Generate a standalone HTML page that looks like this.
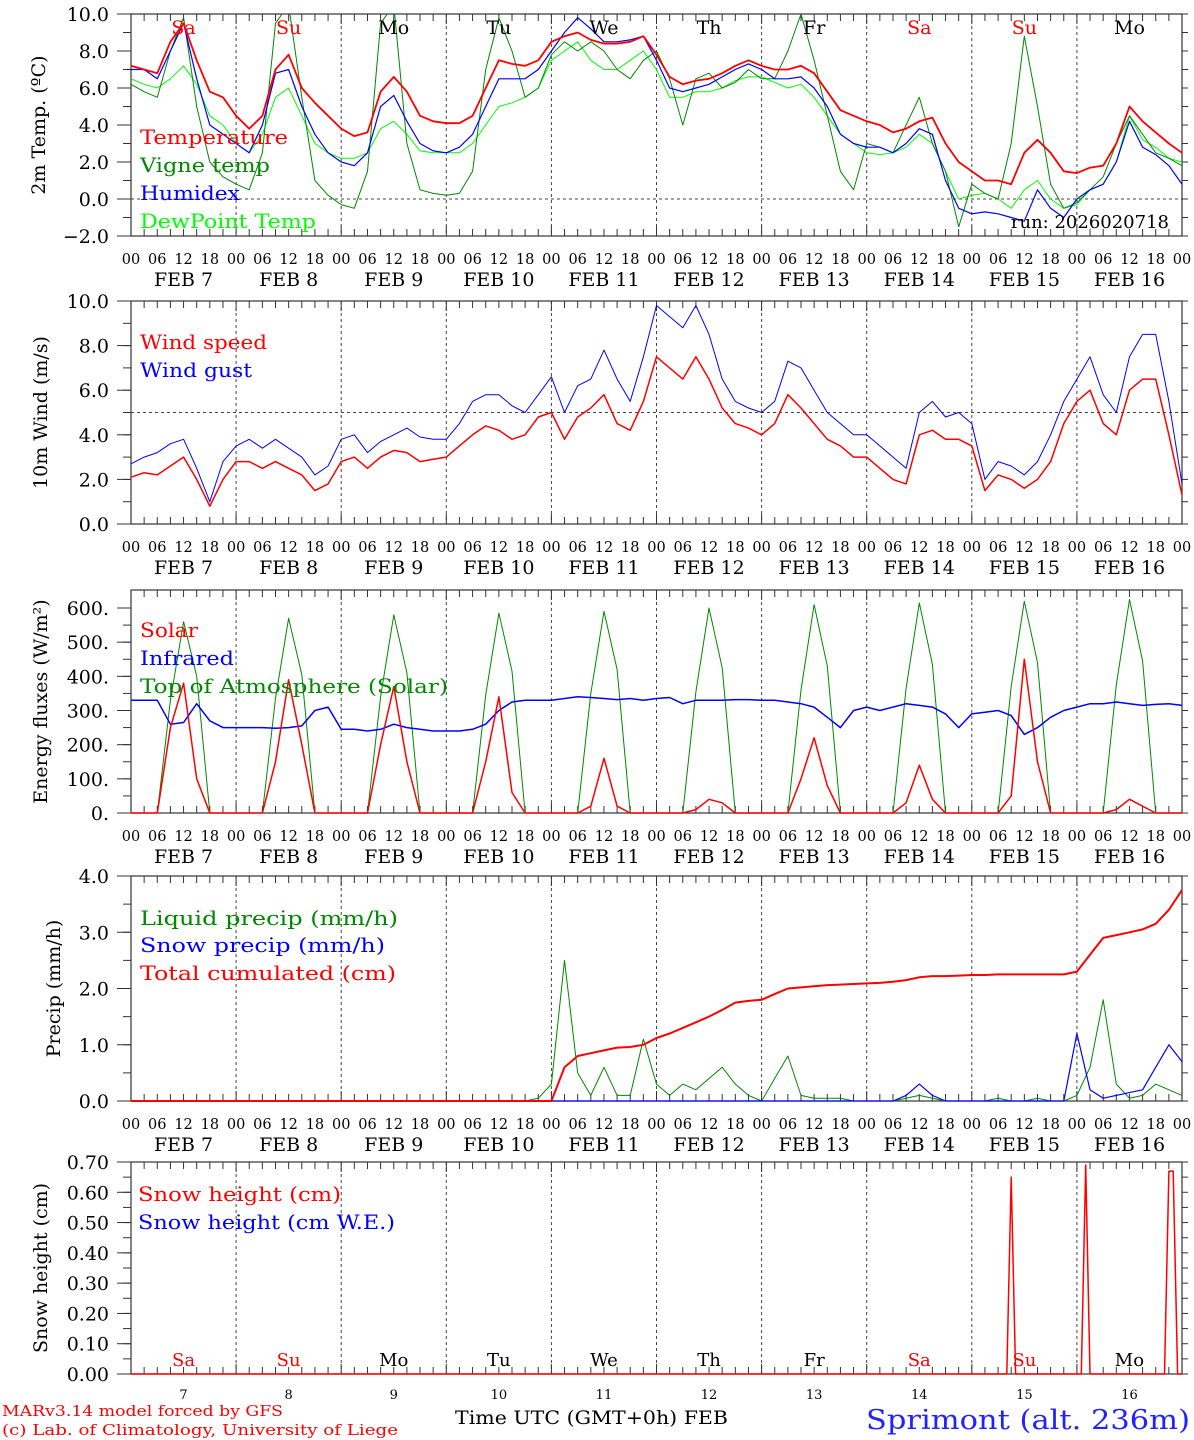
<!DOCTYPE html>
<html><head><meta charset="utf-8">
<style>
html,body{margin:0;padding:0;background:#fff;}
svg{display:block;font-family:"DejaVu Serif","Liberation Serif",serif;}
</style></head>
<body>
<svg id="chart" width="1194" height="1440" viewBox="0 0 1194 1440" xmlns="http://www.w3.org/2000/svg"></svg>
<script>
// ---------- DATA (3-hourly from FEB 7 00 UTC) ----------
const dayNames = ["Sa","Su","Mo","Tu","We","Th","Fr","Sa","Su","Mo"];
const dayNums = ["7","8","9","10","11","12","13","14","15","16"];
const weekend = [true,true,false,false,false,false,false,true,true,false];
const tempVals = [7.2,7.0,6.8,8.5,9.5,7.5,5.8,5.5, 4.5,3.8,4.5,7.0,7.8,6.0,5.2,4.5, 3.8,3.4,3.6,5.8,6.6,5.8,4.5,4.2, 4.1,4.1,4.5,6.0,7.5,7.3,7.2,7.5, 8.5,8.8,9.0,8.6,8.4,8.4,8.5,8.8, 7.8,6.6,6.2,6.4,6.5,6.8,7.2,7.5, 7.2,7.0,7.0,7.2,6.8,5.8,4.8,4.5, 4.2,4.0,3.6,3.8,4.2,4.4,3.0,2.0, 1.5,1.0,1.0,0.8,2.5,3.2,2.5,1.5, 1.4,1.7,1.8,3.0,5.0,4.2,3.6,3.0,2.5];
const vigneVals = [6.2,5.8,5.5,8.0,9.8,5.0,2.0,1.2, 0.8,0.5,2.5,9.5,10.5,5.5,1.0,0.2, -0.3,-0.5,1.5,9.5,10.5,3.0,0.5,0.3, 0.2,0.3,1.5,7.0,9.8,8.0,5.5,6.0, 7.8,8.5,8.0,8.5,8.0,7.0,6.5,7.5, 8.0,6.5,4.0,6.5,6.8,6.0,6.3,7.0, 6.5,6.5,8.0,10.0,7.5,4.5,1.5,0.5, 3.0,2.8,2.5,4.0,5.5,3.0,1.5,-1.5, 0.8,0.3,0.0,3.0,8.8,5.0,0.8,-0.5, -0.2,0.5,1.2,3.0,4.5,3.5,2.5,2.2,1.8];
const humidexVals = [7.0,7.0,6.5,8.0,9.5,6.5,4.0,3.5, 3.0,2.5,4.0,6.8,7.0,5.0,3.5,2.5, 2.0,1.8,2.5,5.0,5.6,4.2,3.0,2.6, 2.5,2.8,3.5,5.0,6.5,6.5,6.5,7.0, 8.0,9.0,9.8,9.2,8.5,8.5,8.6,8.8, 7.5,6.0,5.8,6.0,6.2,6.6,7.0,7.3, 7.0,6.5,6.5,6.6,6.0,5.0,3.5,3.0, 2.8,2.8,2.5,3.0,3.8,3.5,1.0,-0.5, -0.8,-0.7,-0.8,-1.0,-1.2,0.5,-0.5,-1.0, 0.0,0.5,0.8,2.0,4.2,2.8,2.4,1.8,0.8];
const dewVals = [6.5,6.2,6.0,6.5,7.2,6.2,4.5,4.0, 3.0,2.5,3.5,5.5,6.0,4.5,3.0,2.5, 2.2,2.2,2.5,3.8,4.2,3.5,2.6,2.5, 2.5,2.5,3.0,4.0,5.0,5.2,5.5,6.0, 7.5,8.0,8.5,7.5,7.0,7.0,7.5,8.0, 7.0,5.5,5.5,5.8,5.8,6.0,6.4,6.6, 6.6,6.3,6.0,6.2,5.5,4.5,3.5,3.0, 2.5,2.4,2.5,2.8,3.5,3.0,1.5,0.0, 0.2,0.3,0.0,-0.5,0.5,1.0,0.0,-0.5, -0.3,0.5,0.8,2.0,4.5,3.2,2.8,2.2,2.0];
const windVals = [2.1,2.3,2.2,2.6,3.0,2.0,0.8,2.0, 2.8,2.8,2.5,2.8,2.5,2.2,1.5,1.8, 2.8,3.0,2.5,3.0,3.3,3.2,2.8,2.9, 3.0,3.5,4.0,4.4,4.2,3.8,4.0,4.8, 5.0,3.8,4.8,5.2,5.8,4.5,4.2,5.5, 7.5,7.0,6.5,7.5,6.5,5.2,4.5,4.3, 4.0,4.5,5.8,5.2,4.5,3.8,3.5,3.0, 3.0,2.5,2.0,1.8,4.0,4.2,3.8,3.8, 3.5,1.5,2.2,2.0,1.6,2.0,2.8,4.5, 5.5,6.0,4.5,4.0,6.0,6.5,6.5,4.0,1.3];
const gustVals = [2.7,3.0,3.2,3.6,3.8,2.5,1.0,2.8, 3.5,3.8,3.4,3.8,3.4,3.0,2.2,2.6, 3.8,4.0,3.2,3.7,4.0,4.3,3.9,3.8, 3.8,4.5,5.5,5.8,5.8,5.3,5.0,5.8, 6.6,5.0,6.2,6.5,7.8,6.5,5.5,7.5, 9.8,9.3,8.8,9.8,8.5,6.5,5.5,5.2, 5.0,5.5,7.3,7.0,6.0,5.0,4.5,4.0, 4.0,3.5,3.0,2.5,5.0,5.5,4.8,5.0, 4.5,2.0,2.8,2.6,2.2,2.8,4.0,5.5, 6.5,7.5,5.8,5.0,7.5,8.5,8.5,5.5,1.8];
const solarVals = [0,0,0,250,380,100,0,0, 0,0,0,150,390,200,0,0, 0,0,0,200,370,150,0,0, 0,0,0,150,340,60,0,0, 0,0,0,20,160,20,0,0, 0,0,0,10,40,30,0,0, 0,0,0,100,220,80,0,0, 0,0,0,30,140,40,0,0, 0,0,0,50,450,150,0,0, 0,0,0,10,40,20,0,0,0];
const infraredVals = [330,330,330,260,265,320,270,250, 250,250,250,248,250,255,300,310, 245,245,240,245,260,250,245,240, 240,240,245,260,300,325,330,330, 330,335,340,338,335,332,335,330, 335,338,320,330,330,330,332,332, 330,330,325,320,310,280,250,300, 310,300,310,320,315,310,290,250, 290,295,300,285,230,250,280,300, 310,320,320,325,320,315,318,320,315];
const toaVals = [0,0,0,330,560,400,0,0, 0,0,0,335,570,405,0,0, 0,0,0,340,580,410,0,0, 0,0,0,345,585,415,0,0, 0,0,0,350,590,420,0,0, 0,0,0,355,600,425,0,0, 0,0,0,360,610,430,0,0, 0,0,0,365,615,435,0,0, 0,0,0,370,620,440,0,0, 0,0,0,375,625,445,0,0,0];
const liquidVals = [0,0,0,0,0,0,0,0, 0,0,0,0,0,0,0,0, 0,0,0,0,0,0,0,0, 0,0,0,0,0,0,0,0.05, 0.3,2.5,0.5,0.1,0.6,0.1,0.1,1.1, 0.3,0.1,0.3,0.2,0.4,0.6,0.3,0.1, 0,0.4,0.8,0.1,0.05,0.05,0.05,0, 0,0,0,0.05,0.1,0.05,0,0, 0,0,0.05,0,0,0.05,0,0, 0.1,0.6,1.8,0.3,0.05,0.1,0.3,0.2,0.1];
const snowPrecVals = [0,0,0,0,0,0,0,0, 0,0,0,0,0,0,0,0, 0,0,0,0,0,0,0,0, 0,0,0,0,0,0,0,0, 0,0,0,0,0,0,0,0, 0,0,0,0,0,0,0,0, 0,0,0,0,0,0,0,0, 0,0,0,0.1,0.3,0.1,0,0, 0,0,0,0,0,0,0,0, 1.2,0.2,0.05,0.1,0.15,0.2,0.6,1.0,0.7];
const cumulVals = [0,0,0,0,0,0,0,0, 0,0,0,0,0,0,0,0, 0,0,0,0,0,0,0,0, 0,0,0,0,0,0,0,0, 0,0.6,0.8,0.85,0.9,0.95,0.96,1.0, 1.12,1.2,1.3,1.4,1.5,1.62,1.75,1.78, 1.8,1.9,2.0,2.02,2.04,2.06,2.07,2.08, 2.09,2.1,2.12,2.15,2.2,2.22,2.22,2.23, 2.24,2.24,2.25,2.25,2.25,2.25,2.25,2.25, 2.3,2.6,2.9,2.95,3.0,3.05,3.15,3.4,3.75];
const snowHT = [0,199,200,201,202,216,217,218,219,236,237,238,239,240];
const snowHV = [0,0,0,0.65,0,0,0,0.69,0,0,0.67,0.67,0,0];
const hours = [];
for (let i = 0; i <= 80; i++) hours.push(i * 3);

// ---------- DRAW ----------
const NS = "http://www.w3.org/2000/svg";
const svg = document.getElementById("chart");
const X0 = 131, X1 = 1182;
function xs(t){ return X0 + t * (X1 - X0) / 240; }
function mk(tag, attrs, parent){
  const e = document.createElementNS(NS, tag);
  for (const k in attrs) e.setAttribute(k, attrs[k]);
  (parent || svg).appendChild(e);
  return e;
}
function txt(s, x, y, size, fill, anchor, extra){
  const e = mk("text", Object.assign({x:x, y:y, "font-size":size, fill:fill||"#000", "text-anchor":anchor||"start"}, extra||{}));
  e.textContent = s;
  return e;
}
function linePath(ts, vs, ys){
  let d = "";
  for (let i = 0; i < ts.length; i++) d += (i ? "L" : "M") + xs(ts[i]).toFixed(1) + "," + ys(vs[i]).toFixed(1);
  return d;
}

const panels = [
  {name:"temperature-panel", top:14, bot:236, min:-2, max:10, ticks:[-2,0,2,4,6,8,10], fmt:v=>(v<0?"\u22122.0":v.toFixed(1)), minor:1, title:"2m Temp. (\u00BAC)", tx:45, dashed:0, labelRow:true},
  {name:"wind-panel", top:301, bot:524, min:0, max:10, ticks:[0,2,4,6,8,10], fmt:v=>v.toFixed(1), minor:1, title:"10m Wind (m/s)", tx:47, dashed:5, labelRow:true},
  {name:"energy-panel", top:608, bot:813, min:0, max:600, ticks:[0,100,200,300,400,500,600], fmt:v=>v+".", minor:50, title:"Energy fluxes (W/m\u00B2)", tx:47, ext:[590], labelRow:true},
  {name:"precip-panel", top:876, bot:1101, min:0, max:4, ticks:[0,1,2,3,4], fmt:v=>v.toFixed(1), minor:0.5, title:"Precip (mm/h)", tx:60, labelRow:true},
  {name:"snow-panel", top:1162, bot:1374, min:0, max:0.7, ticks:[0,0.1,0.2,0.3,0.4,0.5,0.6,0.7], fmt:v=>v.toFixed(2), minor:0.05, title:"Snow height (cm)", tx:47, labelRow:false}
];
panels.forEach(p=>{
  p.ys = v => p.bot - (v - p.min) * (p.bot - p.top) / (p.max - p.min);
  const g = mk("g", {});
  
  
  const ptop = p.ext ? p.ext[0] : p.top;
  mk("rect", {x:X0, y:ptop, width:X1-X0, height:p.bot-ptop, fill:"none", stroke:"#333", "stroke-width":1.2}, g);
  for (let d = 1; d < 10; d++) mk("line", {x1:xs(d*24), x2:xs(d*24), y1:ptop, y2:p.bot, stroke:"#444", "stroke-dasharray":"3,3", "stroke-width":1}, g);
  for (let h = 0; h <= 240; h += 3){
    const L = h % 24 === 0 ? 10 : 7;
    mk("line", {x1:xs(h), x2:xs(h), y1:ptop, y2:ptop+L, stroke:"#333", "stroke-width":1}, g);
    mk("line", {x1:xs(h), x2:xs(h), y1:p.bot, y2:p.bot-L, stroke:"#333", "stroke-width":1}, g);
  }
  for (let v = p.min; v <= p.max + 1e-9; v += p.minor){
    const y = p.ys(v);
    mk("line", {x1:X0-8, x2:X0, y1:y, y2:y, stroke:"#333", "stroke-width":1}, g);
    mk("line", {x1:X1, x2:X1+6, y1:y, y2:y, stroke:"#333", "stroke-width":1}, g);
  }
  p.ticks.forEach(v=>{
    const y = p.ys(v);
    mk("line", {x1:X0-14, x2:X0, y1:y, y2:y, stroke:"#333", "stroke-width":1}, g);
    const t = txt(p.fmt(v), X0-22, y+7, 19, "#000", "end");
    
    
  });
  if (p.dashed !== undefined){
    const y = p.ys(p.dashed);
    mk("line", {x1:X0, x2:X1, y1:y, y2:y, stroke:"#444", "stroke-dasharray":"3,3", "stroke-width":1}, g);
  }
  const cy = (ptop + p.bot) / 2;
  const tt = txt(p.title, p.tx, cy, 19, "#000", "middle", {transform:"rotate(-90 "+p.tx+" "+cy+")"});
  
  
  if (p.labelRow){
    for (let d = 0; d < 10; d++){
      ["00","06","12","18"].forEach((s,i)=>{
        const t = txt(s, xs(d*24+i*6), p.bot+28, 14.5, "#000", "middle");
        
        
      });
      const t2 = txt("FEB " + (dayNums[d].length<2?" ":"") + dayNums[d], xs(d*24+12), p.bot+50, 19, "#000", "middle", {"xml:space":"preserve"});
      
      
    }
    const t3 = txt("00", xs(240), p.bot+28, 14.5, "#000", "middle");
    
    
  }
});

function series(p, ts, vs, color, name, w){
  const e = mk("path", {d:linePath(ts, vs, p.ys), fill:"none", stroke:color, "stroke-width":w||1.2, "stroke-linejoin":"round"});
  
  
}
function legend(s, x, y, color, len){
  const t = txt(s, x, y, 20, color, "start", {textLength:len, lengthAdjust:"spacingAndGlyphs"});
  
  
}
function clipFor(p, id){
  const cp = mk("clipPath", {id:id});
  mk("rect", {x:X0, y:p.top, width:X1-X0, height:p.bot-p.top}, cp);
}

// panel 1
const P1 = panels[0];
clipFor(P1, "c1");
const g1 = mk("g", {"clip-path":"url(#c1)"});
for (let d = 0; d < 10; d++){
  const t = txt(dayNames[d], xs(d*24+12), 34, 19, weekend[d] ? "#f00" : "#000", "middle");
  
  
}
[[dewVals,"#0f0","dewpoint-line",1],[vigneVals,"#080","vigne-temp-line",1],[humidexVals,"#00f","humidex-line",1.2],[tempVals,"#f00","temperature-line",1.8]].forEach(s=>{
  const e = mk("path", {d:linePath(hours, s[0], P1.ys), fill:"none", stroke:s[1], "stroke-width":s[3], "stroke-linejoin":"round"}, g1);
  
  
});
legend("Temperature", 140, 144, "#f00", 148);
legend("Vigne temp", 140, 172, "#080", 130);
legend("Humidex", 140, 200, "#00f", 100);
legend("DewPoint Temp", 140, 228, "#0f0", 176);
const run = txt("run: 2026020718", 1169, 228, 18, "#000", "end");



// panel 2
const P2 = panels[1];
series(P2, hours, gustVals, "#00f", "wind-gust-line", 1);
series(P2, hours, windVals, "#f00", "wind-speed-line", 1.5);
legend("Wind speed", 140, 349, "#f00", 127);
legend("Wind gust", 140, 377, "#00f", 112);

// panel 3
const P3 = panels[2];
series(P3, hours, toaVals, "#080", "toa-solar-line", 1);
series(P3, hours, infraredVals, "#00f", "infrared-line", 1.5);
series(P3, hours, solarVals, "#f00", "solar-line", 1.5);
legend("Solar", 140, 637, "#f00", 58);
legend("Infrared", 140, 665, "#00f", 94);
legend("Top of Atmosphere (Solar)", 140, 693, "#080", 308);

// panel 4
const P4 = panels[3];
series(P4, hours, liquidVals, "#080", "liquid-precip-line", 1);
series(P4, hours, snowPrecVals, "#00f", "snow-precip-line", 1.2);
series(P4, hours, cumulVals, "#f00", "cumulated-precip-line", 2);
legend("Liquid precip (mm/h)", 140, 925, "#080", 258);
legend("Snow precip (mm/h)", 140, 952, "#00f", 245);
legend("Total cumulated (cm)", 140, 980, "#f00", 256);

// panel 5
const P5 = panels[4];
for (let d = 0; d < 10; d++){
  const t = txt(dayNames[d], xs(d*24+12), 1366, 18, weekend[d] ? "#f00" : "#000", "middle");
  
  
  const n = txt(dayNums[d], xs(d*24+12), 1399, 13, "#000", "middle");
  
  
}
series(P5, snowHT, snowHV, "#f00", "snow-height-line", 1.5);
legend("Snow height (cm)", 138, 1201, "#f00", 203);
legend("Snow height (cm W.E.)", 138, 1229, "#00f", 257);

const xt = txt("Time UTC (GMT+0h) FEB", 455, 1424, 19, "#000", "start", {textLength:273, lengthAdjust:"spacingAndGlyphs"});


const c1 = txt("MARv3.14 model forced by GFS", 2, 1416, 15, "#f00", "start", {textLength:281, lengthAdjust:"spacingAndGlyphs"});


const c2 = txt("(c) Lab. of Climatology, University of Liege", 2, 1435, 15, "#f00", "start", {textLength:396, lengthAdjust:"spacingAndGlyphs"});


const loc = txt("Sprimont (alt. 236m)", 866, 1429, 27, "#22f", "start", {textLength:324, lengthAdjust:"spacingAndGlyphs"});


</script>
</body></html>
